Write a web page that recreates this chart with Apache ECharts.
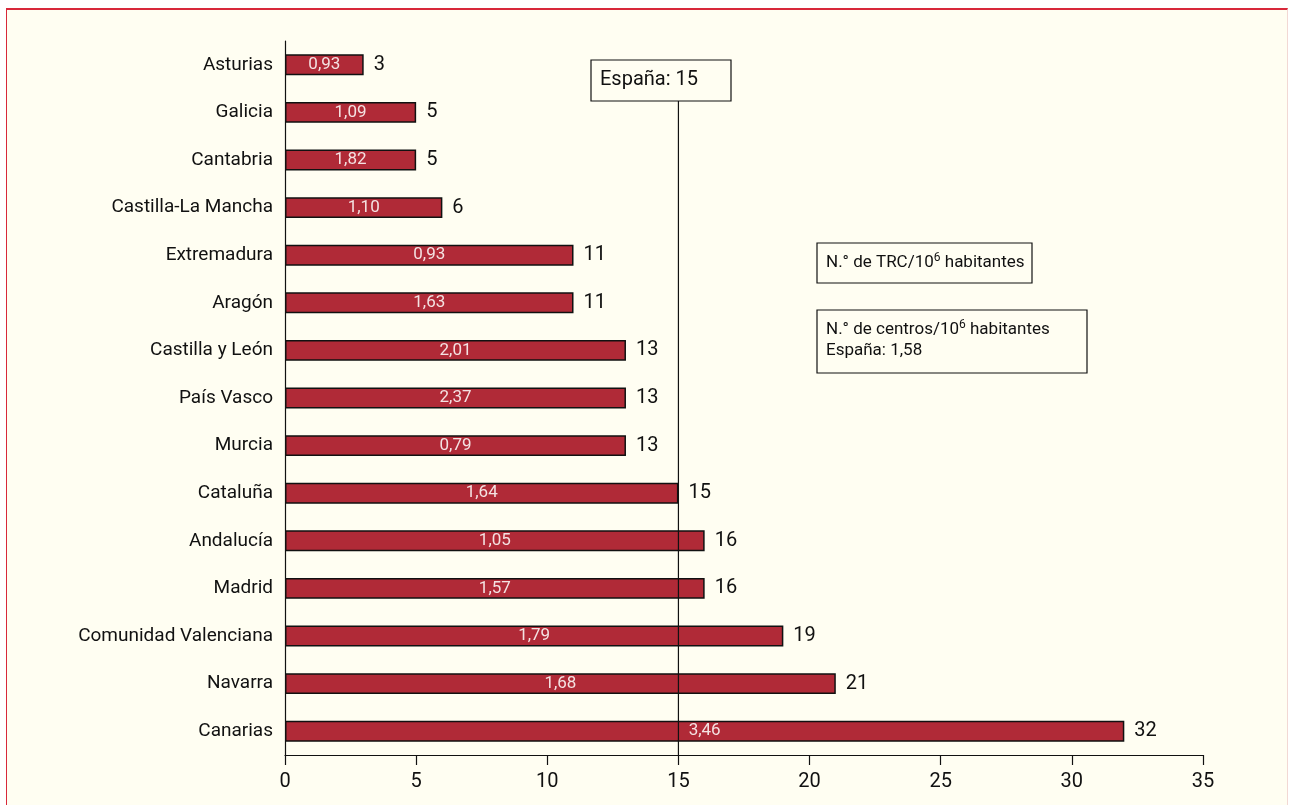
<!DOCTYPE html>
<html><head><meta charset="utf-8">
<script src="https://cdn.jsdelivr.net/npm/echarts@6/dist/echarts.min.js"></script>
<style>
html,body{margin:0;padding:0;background:#fff;}
#frame{position:absolute;left:6px;top:8px;width:1282px;height:805px;background:#fffef2;border-top:2px solid #d8283a;border-left:1.5px solid #d8283a;border-right:1.5px solid #f2d8d4;box-sizing:border-box;}
#c{position:absolute;left:0;top:0;width:1290px;height:805px;}
</style></head><body>
<div id="frame"></div>
<div id="c"></div>
<script>
const regions = ['Asturias','Galicia','Cantabria','Castilla-La Mancha','Extremadura','Aragón','Castilla y León','País Vasco','Murcia','Cataluña','Andalucía','Madrid','Comunidad Valenciana','Navarra','Canarias'];
const trc = [3,5,5,6,11,11,13,13,13,15,16,16,19,21,32];
const centros = ['0,93','1,09','1,82','1,10','0,93','1,63','2,01','2,37','0,79','1,64','1,05','1,57','1,79','1,68','3,46'];
const spainTRC = 15;
const xTicks = [0,5,10,15,20,25,30,35];

const FONT = 'Roboto, "Liberation Sans", sans-serif';
const chart = echarts.init(document.getElementById('c'));
chart.setOption({
  animation:false,
  backgroundColor:'transparent',
  grid:{left:285,right:87,top:41,bottom:50},
  xAxis:{type:'value',min:0,max:35,interval:5,
    axisLine:{show:true,lineStyle:{color:'#111',width:1.2}},
    axisTick:{show:true,length:10,lineStyle:{color:'#111',width:1.2}},
    splitLine:{show:false},
    axisLabel:{color:'#111',fontSize:20,fontFamily:FONT,margin:17,formatter:v=>xTicks.includes(v)?String(v):''}},
  yAxis:{type:'category',data:regions,inverse:true,
    axisLine:{show:true,lineStyle:{color:'#111',width:1.2}},
    axisTick:{show:false},
    axisLabel:{color:'#111',fontSize:19,fontFamily:FONT,margin:12}},
  series:[{
    type:'bar',data:trc,barWidth:'44%',
    itemStyle:{color:'#b02a37',borderColor:'#111',borderWidth:1.5},
    label:{show:true,position:'inside',color:'#f4e2e2',fontSize:17,fontFamily:FONT,
      formatter:p=>centros[p.dataIndex]}
  },{
    type:'bar',data:trc,barWidth:'44%',barGap:'-100%',silent:true,
    itemStyle:{color:'transparent'},
    label:{show:true,position:'right',distance:10,color:'#111',fontSize:20,fontFamily:FONT}
  }]
});

const x15 = chart.convertToPixel({xAxisIndex:0}, spainTRC);
const boxTop = 60, boxBottom = 101, boxLeft = 591, boxRight = 731;
chart.setOption({graphic:[
  {type:'line',shape:{x1:x15,y1:boxBottom,x2:x15,y2:755},style:{stroke:'#111',lineWidth:1.2},z:10},
  {type:'rect',shape:{x:boxLeft,y:boxTop,width:boxRight-boxLeft,height:boxBottom-boxTop},style:{fill:'#fffef2',stroke:'#111',lineWidth:1.2},z:10},
  {type:'text',left:boxLeft+9,top:boxTop+10,style:{text:'España: '+spainTRC,font:'20px '+FONT,fill:'#111'},z:11},
  {type:'rect',shape:{x:817,y:243,width:215,height:40},style:{fill:'#fffef2',stroke:'#111',lineWidth:1.2},z:10},
  {type:'text',left:826,top:252,style:{rich:{a:{font:'17px '+FONT,fill:'#111',lineHeight:22},s:{font:'12px '+FONT,fill:'#111',lineHeight:22,padding:[0,0,9,0]}},text:'{a|N.° de TRC/10}{s|6}{a| habitantes}'},z:11},
  {type:'rect',shape:{x:817,y:310,width:270,height:63},style:{fill:'#fffef2',stroke:'#111',lineWidth:1.2},z:10},
  {type:'text',left:826,top:319,style:{rich:{a:{font:'17px '+FONT,fill:'#111',lineHeight:21},s:{font:'12px '+FONT,fill:'#111',padding:[0,0,9,0],lineHeight:21}},text:'{a|N.° de centros/10}{s|6}{a| habitantes}\n{a|España: 1,58}'},z:11}
]});
</script>
</body></html>
